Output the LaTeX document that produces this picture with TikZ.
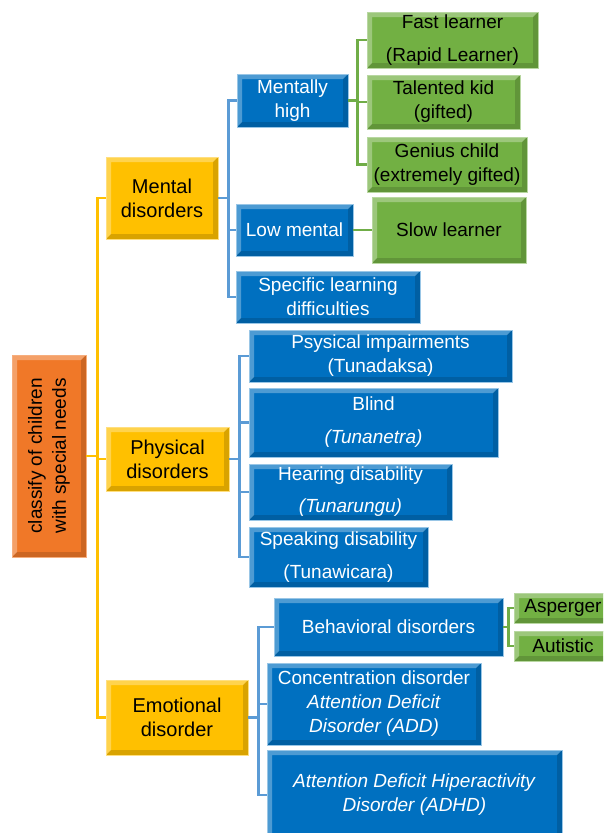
\documentclass[tikz,border=0pt]{standalone}
\usepackage{fontspec}
\usepackage{graphicx}
\setmainfont{Liberation Sans}
\definecolor{rootorange}{HTML}{F07828}
\definecolor{mainyellow}{HTML}{FFC000}
\definecolor{subblue}{HTML}{0070C0}
\definecolor{leafgreen}{HTML}{72B043}
\definecolor{lineblue}{HTML}{5B9BD5}
\definecolor{linegreen}{HTML}{70AD47}
\begin{document}
\begin{tikzpicture}[x=1pt,y=-1pt,
    bevel/.style={path picture={
      \fill[white,opacity=.3] (path picture bounding box.north west)
        -- (path picture bounding box.north east) -- ++(-5pt,-5pt)
        -| ([shift={(5pt,5pt)}]path picture bounding box.south west)
        -- (path picture bounding box.south west) -- cycle;
      \fill[black,opacity=.15] (path picture bounding box.south east)
        -- (path picture bounding box.south west) -- ++(5pt,5pt)
        -| ([shift={(-5pt,-5pt)}]path picture bounding box.north east)
        -- (path picture bounding box.north east) -- cycle;}},
    box/.style={bevel,align=center,inner sep=2pt,line width=.8pt,
      font=\fontsize{19}{24}\selectfont},
    rootbox/.style={box,fill=rootorange,draw=rootorange!60!white,text=black},
    mainbox/.style={box,fill=mainyellow,draw=mainyellow!50!white,text=black,
      font=\fontsize{20}{24}\selectfont},
    subbox/.style={box,fill=subblue,draw=subblue!40!white,text=white},
    leafbox/.style={box,fill=leafgreen,draw=leafgreen!50!white,text=black},
    yline/.style={draw=mainyellow,line width=2.5pt},
    bline/.style={draw=lineblue,line width=2.5pt},
    gline/.style={draw=linegreen,line width=2.5pt}]
  \useasboundingbox (0,0) rectangle (603,833);
  \clip (0,0) rectangle (603,833);

  % root and the three groups
  \node[rootbox,minimum width=74,minimum height=202] (root) at (49,456)
    {\rotatebox{90}{\begin{tabular}{@{}c@{}}classify of children\\with special needs\end{tabular}}};
  \node[mainbox,minimum width=112,minimum height=82] (mental) at (162,198) {Mental\\disorders};
  \node[mainbox,minimum width=123,minimum height=64] (physical) at (167.5,459) {Physical\\disorders};
  \node[mainbox,minimum width=142,minimum height=75] (emotional) at (177,717.5) {Emotional\\disorder};

  % mental
  \node[subbox,minimum width=111,minimum height=53] (high) at (292.5,100.5) {Mentally\\high};
  \node[subbox,minimum width=117,minimum height=52] (low) at (294.5,230) {Low mental};
  \node[subbox,minimum width=184,minimum height=52] (specific) at (328,297) {Specific learning\\difficulties};
  \node[leafbox,minimum width=171,minimum height=56] (fast) at (452.5,40) {Fast learner\\[9pt](Rapid Learner)};
  \node[leafbox,minimum width=153,minimum height=54] (talented) at (443.5,102) {Talented kid\\(gifted)};
  \node[leafbox,minimum width=160,minimum height=55] (genius) at (447,164.5) {Genius child\\(extremely gifted)};
  \node[leafbox,minimum width=154,minimum height=66] (slow) at (449,230) {Slow learner};

  % physical
  \node[subbox,minimum width=263,minimum height=52] (psysical) at (380.5,356) {Psysical impairments\\(Tunadaksa)};
  \node[subbox,minimum width=249,minimum height=69] (blind) at (373.5,422.5) {Blind\\[9pt]\textit{(Tunanetra)}};
  \node[subbox,minimum width=203,minimum height=56] (hearing) at (350.5,492) {Hearing disability\\[8pt]\textit{(Tunarungu)}};
  \node[subbox,minimum width=179,minimum height=60] (speaking) at (338.5,557) {Speaking disability\\[9pt](Tunawicara)};

  % emotional
  \node[subbox,minimum width=229,minimum height=58] (behavioral) at (388.5,627) {Behavioral disorders};
  \node[subbox,minimum width=214,minimum height=82] (concentration) at (374,704)
    {Concentration disorder\\\textit{Attention Deficit}\\\textit{Disorder (ADD)}};
  \node[subbox,minimum width=295,minimum height=90] (adhd) at (414.5,795)
    {\textit{Attention Deficit Hiperactivity}\\\textit{Disorder (ADHD)}};
  \node[leafbox,inner sep=1pt,minimum width=98,minimum height=30] (asperger) at (563,608) {Asperger};
  \node[leafbox,inner sep=1pt,minimum width=98,minimum height=30] (autistic) at (563,646) {Autistic};

  % connectors
  \foreach \g in {mental,physical,emotional}
    \draw[yline] (root.east) -- +(11,0) |- (\g.west);
  \foreach \s in {high,low,specific}
    \draw[bline] (mental.east) -- +(10,0) |- (\s.west);
  \foreach \s in {fast,talented,genius}
    \draw[gline] (high.east) -- +(9,0) |- (\s.west);
  \draw[gline] (low) -- (slow);
  \foreach \s in {psysical,blind,hearing,speaking}
    \draw[bline] (physical.east) -- +(10,0) |- (\s.west);
  \foreach \s in {behavioral,concentration,adhd}
    \draw[bline] (emotional.east) -- +(10,0) |- (\s.west);
  \foreach \s in {asperger,autistic}
    \draw[gline] (behavioral.east) -- +(5,0) |- (\s.west);
\end{tikzpicture}
\end{document}
